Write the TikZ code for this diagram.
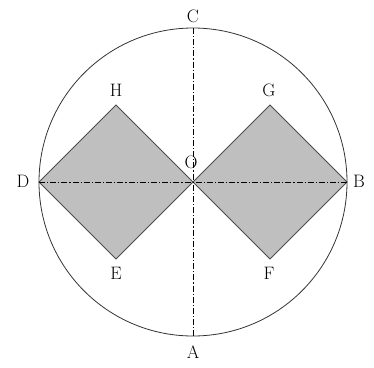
\documentclass[tikz,border=0pt]{standalone}
\begin{document}
\begin{tikzpicture}[x=1pt,y=-1pt,
  lbl/.style={font=\fontsize{18}{20}\selectfont, inner sep=0pt},
  sq/.style={fill=gray!50, draw=black!70, line width=0.9pt, line join=miter},
  axis/.style={line width=0.8pt, dash pattern=on 6pt off 2pt on 1.2pt off 2pt}]
\useasboundingbox (0,0) rectangle (374,367);
\coordinate (O) at (193,182);
\coordinate (D) at (39,182);
\coordinate (B) at (347,182);
\coordinate (C) at (193,28);
\coordinate (A) at (193,336);
\coordinate (H) at (116,105);
\coordinate (E) at (116,259);
\coordinate (G) at (270,105);
\coordinate (F) at (270,259);
\draw[sq] (D) -- (H) -- (O) -- (E) -- cycle;
\draw[sq] (O) -- (G) -- (B) -- (F) -- cycle;
\draw[black!80, line width=0.8pt] (O) circle (154);
\draw[axis] (C) -- (A);
\draw[axis] (D) -- (B);
\node[lbl] (lC) at (193,16) {C};
\node[lbl] (lA) at (193,352) {A};
\node[lbl] (lD) at (23,181) {D};
\node[lbl] (lB) at (359,181) {B};
\node[lbl] (lO) at (191,162) {O};
\node[lbl] (lH) at (116,90) {H};
\node[lbl] (lG) at (269,90) {G};
\node[lbl] (lE) at (116,273) {E};
\node[lbl] (lF) at (269,273) {F};
\end{tikzpicture}
\end{document}
